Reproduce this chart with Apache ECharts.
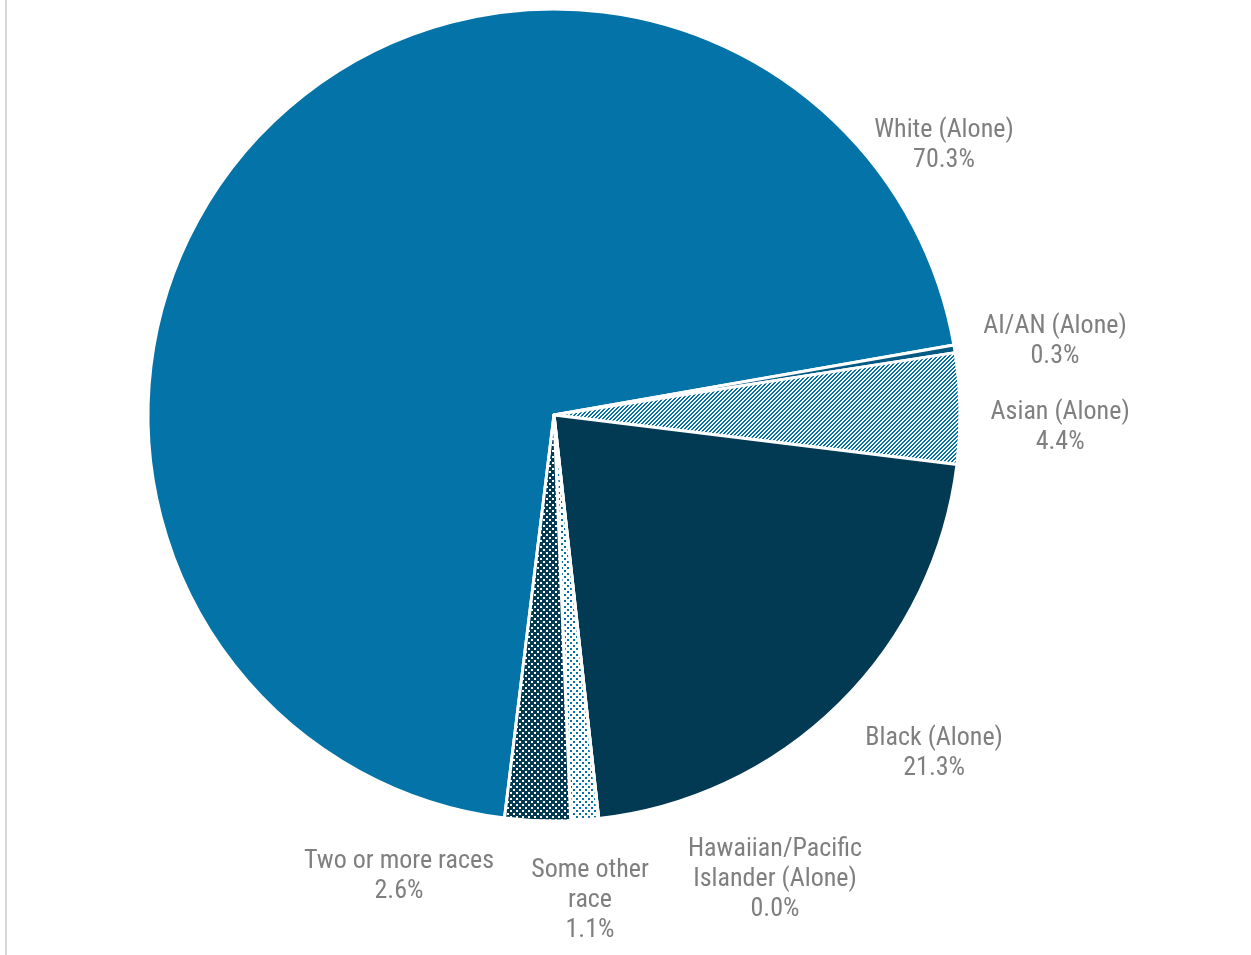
<!DOCTYPE html>
<html>
<head>
<meta charset="utf-8">
<script src="https://cdn.jsdelivr.net/npm/echarts@6/dist/echarts.min.js"></script>
<style>
  html, body { margin: 0; padding: 0; background: #fff; }
  #frame { position: absolute; left: 5px; top: 0; width: 1246px; height: 955px; border-left: 2px solid #d9d9d9; box-sizing: border-box; }
  #chart { position: absolute; left: 0; top: 0; width: 1251px; height: 955px; }
</style>
</head>
<body>
<div id="frame"></div>
<div id="chart"></div>
<script>
// ---- Data ----
const categories = [
  'White (Alone)',
  'AI/AN (Alone)',
  'Asian (Alone)',
  'Black (Alone)',
  'Hawaiian/Pacific\nIslander (Alone)',
  'Some other\nrace',
  'Two or more races'
];
const shares = [70.3, 0.3, 4.4, 21.3, 0.0, 1.1, 2.6];

// ---- Styles ----
const BLUE = '#0474a8';
const NAVY = '#023a54';
const MID = '#035a82';

function makePattern(size, bg, fg, pixelTest) {
  const c = document.createElement('canvas');
  c.width = size; c.height = size;
  const ctx = c.getContext('2d');
  ctx.fillStyle = bg; ctx.fillRect(0, 0, size, size);
  ctx.fillStyle = fg;
  for (let y = 0; y < size; y++) for (let x = 0; x < size; x++) {
    if (pixelTest(x, y)) ctx.fillRect(x, y, 1, 1);
  }
  return { image: c, repeat: 'repeat' };
}
const hatch = makePattern(4, '#ffffff', BLUE, (x, y) => ((x + y) % 4) < 2);
const dots = makePattern(6, '#ffffff', BLUE, (x, y) =>
  (x < 2 && y < 2) || (x >= 3 && x < 5 && y >= 3 && y < 5));
const checker = makePattern(6, NAVY, '#ffffff', (x, y) =>
  (x < 2 && y < 2) || (x >= 3 && x < 5 && y >= 3 && y < 5));

const fills = [BLUE, MID, hatch, NAVY, NAVY, dots, checker];

// label placement relative to the pie: [angle (deg, math), distance in radii]
const labelPolar = [
  [34.6, 1.167], [8.3, 1.247], [-1.36, 1.247], [-41.65, 1.253],
  [-64.58, 1.268], [-85.76, 1.2], [-108.58, 1.198]
];

const CX = 554, CY = 415, R = 406;

const chart = echarts.init(document.getElementById('chart'), null, { renderer: 'canvas' });
chart.setOption({
  backgroundColor: 'transparent',
  animation: false,
  series: [{
    type: 'pie',
    center: [CX, CY],
    radius: [0, R],
    startAngle: 263,
    clockwise: true,
    avoidLabelOverlap: false,
    minAngle: 0,
    itemStyle: { borderColor: '#ffffff', borderWidth: 3 },
    emphasis: { disabled: true },
    label: {
      show: true,
      position: 'outside',
      formatter: p => p.name + '\n' + p.value.toFixed(1) + '%',
      color: '#7f7f7f',
      fontFamily: '"Liberation Sans Narrow", "Arial Narrow", "Roboto Condensed", sans-serif',
      fontSize: 26,
      lineHeight: 30,
      align: 'center'
    },
    labelLine: { show: false },
    labelLayout: function (params) {
      const lp = labelPolar[params.dataIndex];
      const a = lp[0] * Math.PI / 180;
      return {
        x: CX + lp[1] * R * Math.cos(a),
        y: CY - lp[1] * R * Math.sin(a),
        align: 'center',
        verticalAlign: 'middle'
      };
    },
    data: categories.map((c, i) => ({
      name: c,
      value: shares[i],
      itemStyle: { color: fills[i] }
    }))
  }]
});
</script>
</body>
</html>
